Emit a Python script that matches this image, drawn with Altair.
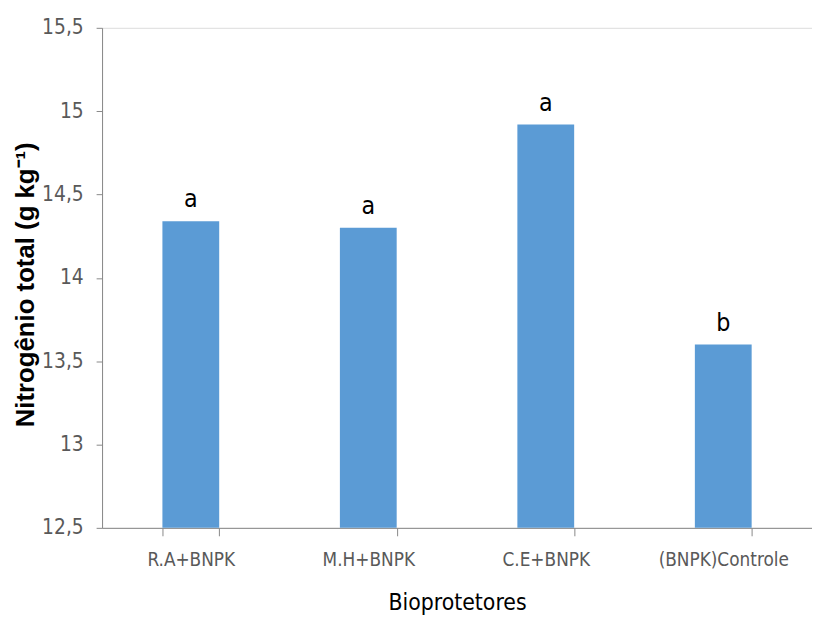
import altair as alt
import pandas as pd

categories = ["R.A+BNPK", "M.H+BNPK", "C.E+BNPK", "(BNPK)Controle"]
values = [14.34, 14.30, 14.92, 13.60]
letters = ["a", "a", "a", "b"]
y_ticks = [12.5, 13.0, 13.5, 14.0, 14.5, 15.0, 15.5]

df = pd.DataFrame({"cat": categories, "val": values, "lab": letters})

narrow = "Liberation Sans Narrow, DejaVu Sans Condensed, Arial Narrow, sans-serif"

x_enc = alt.X(
    "cat:N", sort=categories,
    scale=alt.Scale(paddingInner=0.68, paddingOuter=0.34),
    axis=alt.Axis(
        title="Bioprotetores", labelAngle=0, labelFont=narrow, labelFontSize=19,
        labelColor="#595959", labelPadding=15, tickSize=8, tickColor="#888888",
        domainColor="#888888", tickBand="extent", titleFont=narrow,
        titleFontSize=23, titleFontWeight="normal", titleColor="#000000",
        titleY=75, titleBaseline="middle",
    ),
)
y_scale = alt.Scale(domain=[12.5, 15.5], nice=False, zero=False)

bars = alt.Chart(df).mark_bar(color="#5B9BD5").encode(
    x=x_enc,
    y=alt.Y(
        "val:Q", scale=y_scale,
        axis=alt.Axis(
            values=y_ticks, grid=False, title="Nitrogênio total (g kg⁻¹)",
            labelExpr="replace(format(datum.value, '.1~f'), '.', ',')",
            labelFont=narrow, labelFontSize=21, labelColor="#595959",
            labelPadding=13, tickSize=6, tickColor="#888888", domainColor="#888888",
            titleFont="Liberation Sans", titleFontSize=26,
            titleFontWeight="bold", titleColor="#000000", titleX=-77, titleY=259,
            titleAngle=-90, titleBaseline="middle", titleAlign="center",
        ),
    ),
    y2=alt.datum(12.5),
)

text = alt.Chart(df).mark_text(
    font=narrow, fontSize=25, color="#000000", baseline="alphabetic", dy=-14
).encode(
    x=alt.X("cat:N", sort=categories),
    y=alt.Y("val:Q", scale=y_scale),
    text="lab:N",
)

chart = alt.layer(bars, text).properties(
    width=717, height=505,
    autosize=alt.AutoSizeParams(type="none"),
    padding={"left": 95, "top": 17, "right": 0, "bottom": 86},
).configure_view(stroke=None).configure(background="#ffffff")

chart.save("out.html", embed_options={"renderer": "svg", "actions": False})
